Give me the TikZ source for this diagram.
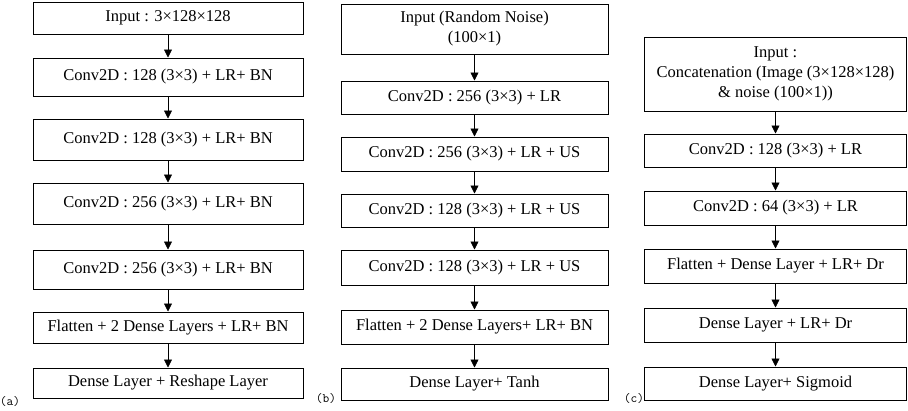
\documentclass[tikz,border=0pt]{standalone}
\usepackage{fontspec}
\newfontfamily\boxfont{Liberation Serif}
\usepackage{tikz}
\usetikzlibrary{arrows.meta,positioning}

\begin{document}
\begin{tikzpicture}[x=1pt,y=-1pt,
    layer/.style={draw, line width=1pt, inner sep=0pt, align=center,
        font=\boxfont\fontsize{16.5}{20}\selectfont},
    wa/.style={layer, minimum width=270pt},
    wb/.style={layer, minimum width=267pt},
    wc/.style={layer, minimum width=262pt},
    tag/.style={font=\ttfamily\fontsize{13}{15}\selectfont, inner sep=0pt},
    flow/.style={-{Triangle[width=8pt,length=8pt]}, line width=0.7pt}]
\useasboundingbox (0,0) rectangle (908,410);
% (a)
\node [wa, minimum height=32pt] (a1) at (168,18) {Input : 3×128×128};
\node [wa, minimum height=38pt] (a2) at (168,77) {Conv2D : 128 (3×3) + LR+ BN};
\node [wa, minimum height=41pt] (a3) at (168,139.5) {Conv2D : 128 (3×3) + LR+ BN};
\node [wa, minimum height=41pt] (a4) at (168,203.5) {Conv2D : 256 (3×3) + LR+ BN};
\node [wa, minimum height=39pt] (a5) at (168,269.5) {Conv2D : 256 (3×3) + LR+ BN};
\node [wa, minimum height=31pt] (a6) at (168,327.5) {Flatten + 2 Dense Layers + LR+ BN};
\node [wa, minimum height=30pt] (a7) at (168,383) {Dense Layer + Reshape Layer};
\node [tag] (la) at (10,402) {(a)};
\path [flow] (a1) edge (a2) (a2) edge (a3) (a3) edge (a4)
    (a4) edge (a5) (a5) edge (a6) (a6) edge (a7);
% (b)
\node [wb, minimum height=50pt] (b1) at (474.5,29) {Input (Random Noise)\\(100×1)};
\node [wb, minimum height=33pt] (b2) at (474.5,97.5) {Conv2D : 256 (3×3) + LR};
\node [wb, minimum height=34pt] (b3) at (474.5,154) {Conv2D : 256 (3×3) + LR + US};
\node [wb, minimum height=33pt] (b4) at (474.5,210.5) {Conv2D : 128 (3×3) + LR + US};
\node [wb, minimum height=35pt] (b5) at (474.5,267.5) {Conv2D : 128 (3×3) + LR + US};
\node [wb, minimum height=34pt] (b6) at (474.5,327) {Flatten + 2 Dense Layers+ LR+ BN};
\node [wb, minimum height=32pt] (b7) at (474.5,384) {Dense Layer+ Tanh};
\node [tag] (lb) at (326,399) {(b)};
\path [flow] (b1) edge (b2) (b2) edge (b3) (b3) edge (b4)
    (b4) edge (b5) (b5) edge (b6) (b6) edge (b7);
% (c)
\node [wc, minimum height=74pt] (c1) at (775.5,74) {Input :\\Concatenation (Image (3×128×128)\\\& noise (100×1))};
\node [wc, minimum height=33pt] (c2) at (775.5,150.5) {Conv2D : 128 (3×3) + LR};
\node [wc, minimum height=34pt] (c3) at (775.5,208) {Conv2D : 64 (3×3) + LR};
\node [wc, minimum height=34pt] (c4) at (775.5,266) {Flatten + Dense Layer + LR+ Dr};
\node [wc, minimum height=34pt] (c5) at (775.5,325) {Dense Layer + LR+ Dr};
\node [wc, minimum height=33pt] (c6) at (775.5,383.5) {Dense Layer+ Sigmoid};
\node [tag] (lc) at (634,399) {(c)};
\path [flow] (c1) edge (c2) (c2) edge (c3) (c3) edge (c4)
    (c4) edge (c5) (c5) edge (c6);
\end{tikzpicture}
\end{document}
